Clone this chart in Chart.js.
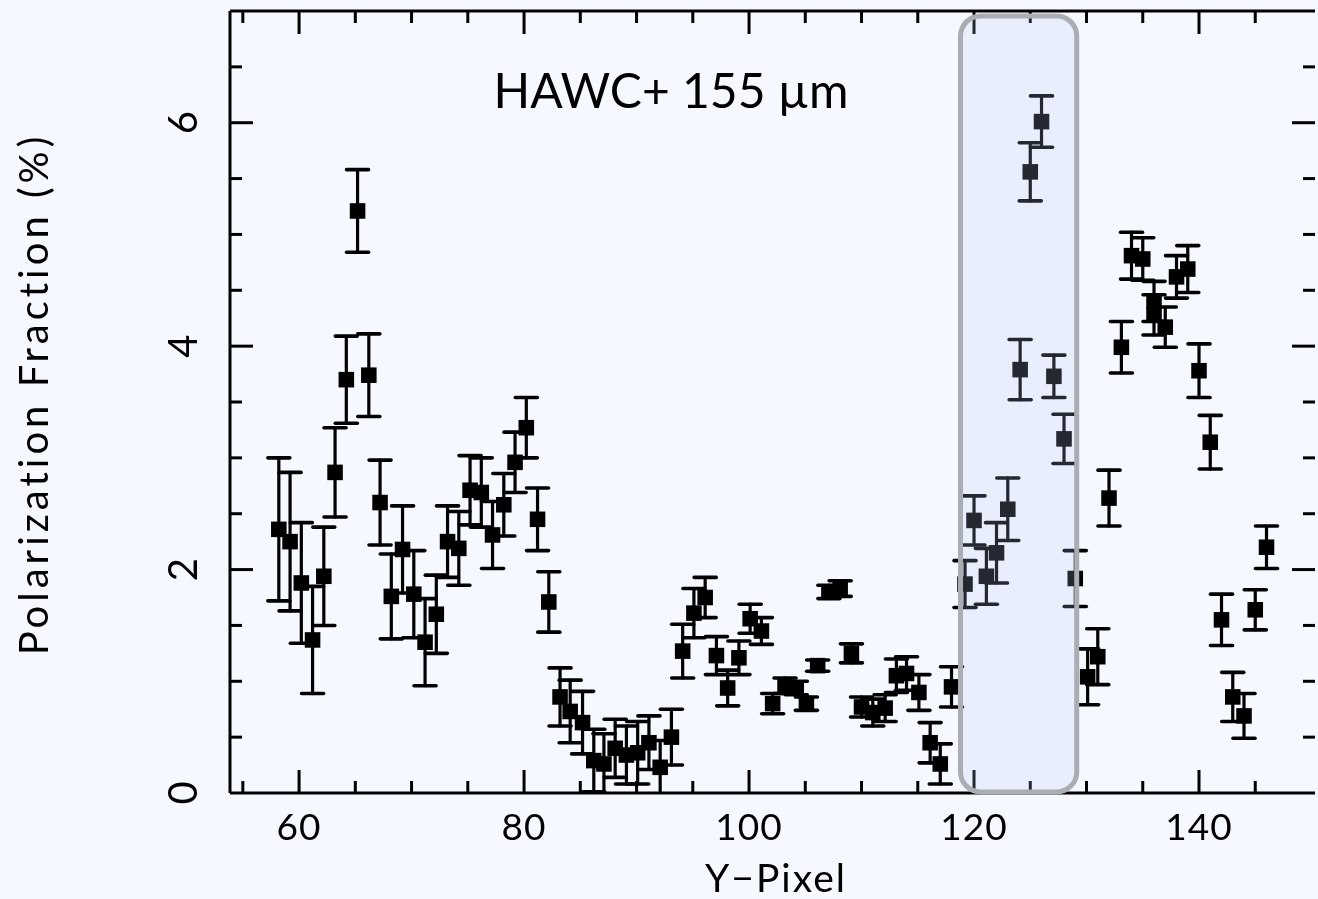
<!DOCTYPE html>
<html>
<head>
<meta charset="utf-8">
<script src="https://cdn.jsdelivr.net/npm/chart.js@4"></script>
<style>
html, body { margin:0; padding:0; background:#f5f8fe; overflow:hidden; }
#pol_chart { display:block; }
</style>
</head>
<body>
<canvas id="pol_chart" width="1318" height="899"></canvas>
<script>
// Y-Pixel position along the cut
let yPixel = [58.2,59.2,60.2,61.2,62.2,63.2,64.2,65.2,66.2,67.2,68.2,69.2,70.2,71.2,72.2,73.2,74.2,75.2,76.2,77.2,78.2,79.2,80.2,81.2,82.2,
    83.2,84.1,85.2,86.2,87.1,88.1,89.1,90.1,91.1,92.1,93.1,94.1,95.1,96.1,97.1,98.1,99.1,100.1,101.1,102.1,
    103.2,104.2,105.1,106.1,107.1,108.1,109.1,110,111,112.1,
    113.1,114,115.1,116.1,117,118,119.2,120,121.1,122,123,124.1,125,126,127.1,128,129,
    130.1,131,132,133.1,134,135,136,136,137,138,139,140,141,142,143,144,145,146];
// polarization fraction (%)
let polFrac = [2.36,2.25,1.88,1.37,1.94,2.87,3.70,5.21,3.74,2.60,1.76,2.18,1.78,1.35,1.60,2.25,2.19,2.71,2.69,2.31,2.58,2.96,3.27,2.45,1.71,
    0.86,0.73,0.63,0.29,0.26,0.40,0.34,0.36,0.45,0.23,0.50,1.27,1.61,1.75,1.23,0.94,1.21,1.56,1.45,0.80,
    0.96,0.94,0.80,1.14,1.80,1.83,1.25,0.77,0.72,0.76,
    1.05,1.07,0.90,0.45,0.26,0.95,1.87,2.44,1.94,2.15,2.54,3.79,5.56,6.01,3.73,3.17,1.92,
    1.04,1.22,2.64,3.99,4.81,4.78,4.40,4.28,4.17,4.62,4.69,3.78,3.14,1.55,0.86,0.69,1.64,2.20];
// 1-sigma error
let polErr = [0.64,0.62,0.54,0.48,0.44,0.40,0.39,0.37,0.37,0.38,0.38,0.39,0.39,0.39,0.35,0.32,0.33,0.31,0.31,0.30,0.28,0.27,0.27,0.28,0.27,
    0.26,0.28,0.28,0.28,0.27,0.26,0.26,0.28,0.24,0.24,0.25,0.24,0.22,0.18,0.17,0.16,0.15,0.13,0.12,0.09,
    0.07,0.06,0.06,0.05,0.06,0.07,0.085,0.09,0.12,0.12,
    0.15,0.15,0.16,0.18,0.18,0.18,0.21,0.22,0.25,0.27,0.28,0.27,0.26,0.23,0.19,0.22,0.25,
    0.25,0.25,0.25,0.23,0.21,0.19,0.18,0.18,0.18,0.19,0.21,0.24,0.24,0.23,0.22,0.20,0.18,0.19];

let xTicks = [60, 80, 100, 120, 140];
let yTicks = [0, 2, 4, 6];
let boxX = [118.8, 129.13];   // highlighted range
let boxY = [0.01, 6.955];

let points = [];
for(let i=0; i<yPixel.length; i++) {
    points.push({x:yPixel[i], y:polFrac[i]});
}

function line(ctx, x1, y1, x2, y2) {
    ctx.beginPath();
    ctx.moveTo(x1, y1);
    ctx.lineTo(x2, y2);
    ctx.stroke();
}

let errorBars = {
    id:"errorBars",
    beforeDatasetsDraw:function(chart) {
        let ctx = chart.ctx, a = chart.chartArea;
        let sx = chart.scales.x, sy = chart.scales.y;
        ctx.save();
        ctx.beginPath();
        ctx.rect(a.left, a.top, a.right-a.left, a.bottom-a.top);
        ctx.clip();
        ctx.strokeStyle = "#000";
        ctx.lineCap = "round";
        for(let i=0; i<yPixel.length; i++) {
            let px = sx.getPixelForValue(yPixel[i]);
            let hi = sy.getPixelForValue(polFrac[i]+polErr[i]);
            let lo = sy.getPixelForValue(polFrac[i]-polErr[i]);
            ctx.lineWidth = 3.2;
            line(ctx, px, hi, px, lo);
            ctx.lineWidth = 3.6;
            line(ctx, px-11, hi, px+11, hi);
            line(ctx, px-11, lo, px+11, lo);
        }
        ctx.restore();
    }
};

let frame = {
    id:"frame",
    beforeDraw:function(chart) {
        let ctx = chart.ctx;
        ctx.save();
        ctx.fillStyle = "#f5f8fe";
        ctx.fillRect(0, 0, chart.width, chart.height);
        ctx.restore();
    },
    afterDatasetsDraw:function(chart) {
        let ctx = chart.ctx, a = chart.chartArea;
        let sx = chart.scales.x, sy = chart.scales.y;
        let rightEdge = a.right + 8;   // right axis sits just past the canvas
        ctx.save();
        ctx.strokeStyle = "#000";
        ctx.lineWidth = 3;
        line(ctx, a.left, a.top, rightEdge, a.top);
        line(ctx, a.left, a.bottom, rightEdge, a.bottom);
        line(ctx, a.left, a.top, a.left, a.bottom);
        for(let v=55; v<=145; v+=5) {
            let px = sx.getPixelForValue(v);
            let len = (v%20==0) ? 23 : 12;
            line(ctx, px, a.bottom, px, a.bottom-len);
            line(ctx, px, a.top, px, a.top+len);
        }
        for(let v=0.5; v<7; v+=0.5) {
            let py = sy.getPixelForValue(v);
            let len = (v%2==0) ? 23 : 12;
            line(ctx, a.left, py, a.left+len, py);
            line(ctx, rightEdge, py, rightEdge-len, py);
        }

        // highlighted box
        let bl = sx.getPixelForValue(boxX[0]), br = sx.getPixelForValue(boxX[1]);
        let bt = sy.getPixelForValue(boxY[1]), bb = sy.getPixelForValue(boxY[0]);
        ctx.beginPath();
        ctx.roundRect(bl, bt, br-bl, bb-bt, 20);
        ctx.fillStyle = "rgba(180, 198, 244, 0.2)";
        ctx.fill();
        ctx.strokeStyle = "#aaadb4";
        ctx.lineWidth = 5;
        ctx.stroke();

        // labels
        ctx.fillStyle = "#000";
        ctx.textAlign = "center";
        ctx.textBaseline = "middle";
        ctx.font = "37px Lato";
        ctx.letterSpacing = "1px";
        for(let i=0; i<xTicks.length; i++) {
            ctx.fillText(String(xTicks[i]), sx.getPixelForValue(xTicks[i]), 828);
        }
        ctx.font = "39px Lato";
        ctx.letterSpacing = "2px";
        ctx.fillText("Y\u2212Pixel", 776, 879);
        ctx.letterSpacing = "0px";
        ctx.font = "40px Lato";
        for(let i=0; i<yTicks.length; i++) {
            ctx.save();
            ctx.translate(184, sy.getPixelForValue(yTicks[i]));
            ctx.rotate(-Math.PI/2);
            ctx.fillText(String(yTicks[i]), 0, 0);
            ctx.restore();
        }
        ctx.save();
        ctx.translate(35, 394);
        ctx.rotate(-Math.PI/2);
        ctx.letterSpacing = "4px";
        ctx.fillText("Polarization Fraction (%)", 0, 0);
        ctx.restore();
        ctx.font = "48px Lato";
        ctx.fillText("HAWC+ 155 \u00b5m", 671, 93);
        ctx.restore();
    }
};

let polChart = new Chart(document.getElementById("pol_chart"), {
    type:"scatter",
    data:{
        datasets:[{
            label:"HAWC+ 155 \u00b5m",
            data:points,
            pointStyle:"rect",
            pointRadius:11,
            backgroundColor:"#000",
            borderWidth:0
        }]
    },
    options:{
        responsive:false,
        animation:false,
        layout:{ padding:{left:230, top:10, right:0, bottom:106} },
        plugins:{ legend:{display:false}, tooltip:{enabled:false} },
        scales:{
            x:{ type:"linear", min:53.86, max:149.6, display:false },
            y:{ type:"linear", min:0, max:7, display:false }
        }
    },
    plugins:[errorBars, frame]
});
</script>
</body>
</html>
